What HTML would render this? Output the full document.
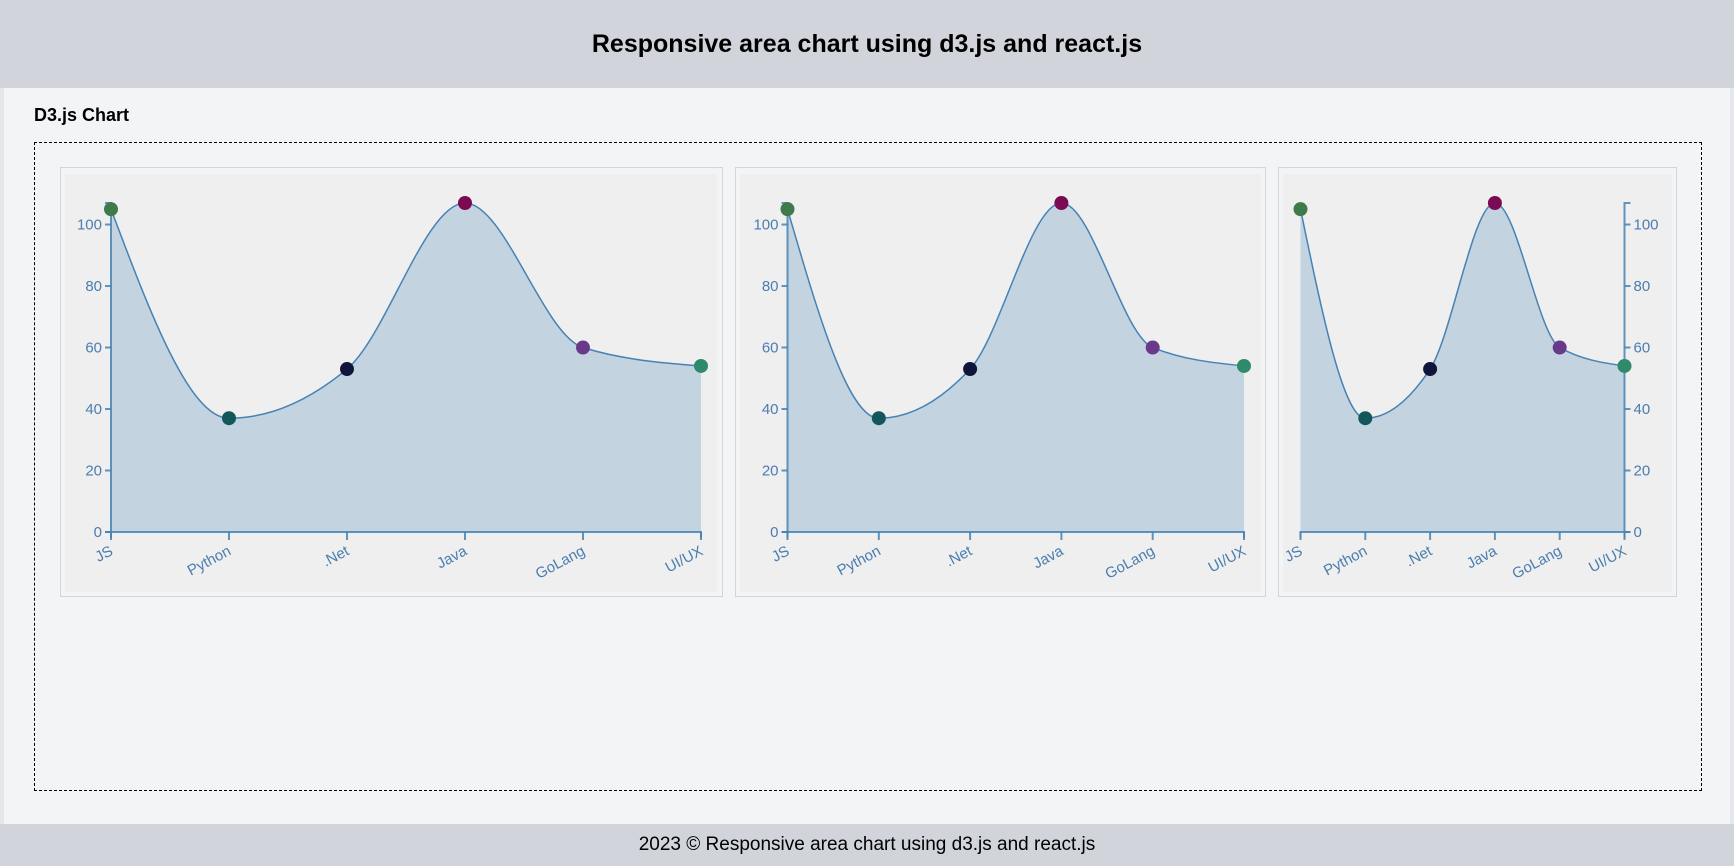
<!DOCTYPE html>
<html><head><meta charset="utf-8">
<style>
html,body{margin:0;padding:0;width:1734px;height:866px;overflow:hidden;background:#e5e7eb;font-family:"Liberation Sans",sans-serif;}
#header{position:absolute;left:0;top:0;width:1734px;height:88px;background:#d1d5db;}
#header h1{margin:0;position:absolute;left:0;width:1734px;top:30px;text-align:center;font-size:25px;font-weight:bold;color:#000;}
#main{position:absolute;left:4px;top:88px;width:1726px;height:736px;background:#f3f4f6;}
#sub{position:absolute;left:34px;top:105px;font-size:18px;font-weight:bold;}
#box{position:absolute;left:34px;top:142px;width:1666px;height:647px;border:1px dashed #000;}
.card{position:absolute;top:167px;height:430px;border:1px solid #d1d5db;background:#f3f4f6;box-sizing:border-box;}
#footer{position:absolute;left:0;top:824px;width:1734px;height:42px;background:#d1d5db;text-align:center;line-height:42px;font-size:19px;}
svg{position:absolute;left:0;top:0;}
</style></head><body>
<div id="header"><h1>Responsive area chart using d3.js and react.js</h1></div>
<div id="main"></div>
<div id="sub">D3.js Chart</div>
<div id="box"></div>
<div class="card" style="left:60px;width:663px"></div>
<div class="card" style="left:735px;width:531px"></div>
<div class="card" style="left:1278px;width:399px"></div>
<div id="footer">2023 © Responsive area chart using d3.js and react.js</div>
<svg id="chart" width="1734" height="866"></svg>
<script>
const categories = ["JS","Python",".Net","Java","GoLang","UI/UX"];
const values = [105,37,53,107,60,54];
const yTicks = [0,20,40,60,80,100];
const pointColors = ["#3f7a4a","#14575a","#10163a","#7a0a52","#6a3a8a","#2e8a6a"];

const NS="http://www.w3.org/2000/svg";
const svg=document.getElementById('chart');
function mk(tag,attrs,parent){const e=document.createElementNS(NS,tag);for(const k in attrs)e.setAttribute(k,attrs[k]);(parent||svg).appendChild(e);return e;}

const panels=[
 {px:65,pw:652,x0:111,x1:701,right:false},
 {px:740,pw:521,x0:787.5,x1:1244,right:false},
 {px:1283,pw:389,x0:1300.5,x1:1624.5,right:true}
];
const yTop=203, yBot=532;
const yMax=Math.max(...values);
function sign(x){return x<0?-1:1;}
function monotone(pts){
  const n=pts.length, t=new Array(n);
  const h=[],s=[];
  for(let i=0;i<n-1;i++){h[i]=pts[i+1][0]-pts[i][0];s[i]=(pts[i+1][1]-pts[i][1])/h[i];}
  for(let i=1;i<n-1;i++){
    const p=(s[i-1]*h[i]+s[i]*h[i-1])/(h[i-1]+h[i]);
    t[i]=(sign(s[i-1])+sign(s[i]))*Math.min(Math.abs(s[i-1]),Math.abs(s[i]),0.5*Math.abs(p))||0;
  }
  t[0]=(3*s[0]-t[1])/2; t[n-1]=(3*s[n-2]-t[n-2])/2;
  let d="M"+pts[0][0]+","+pts[0][1];
  for(let i=0;i<n-1;i++){
    const dx=h[i]/3;
    d+="C"+(pts[i][0]+dx)+","+(pts[i][1]+dx*t[i])+" "+(pts[i+1][0]-dx)+","+(pts[i+1][1]-dx*t[i+1])+" "+pts[i+1][0]+","+pts[i+1][1];
  }
  return d;
}
panels.forEach((p,pi)=>{
  const g=mk('g',{});
  
  
  const bg=mk('rect',{x:p.px,y:174,width:p.pw,height:418,fill:'#efefef'},g);
  
  
  const xs=i=>p.x0+(p.x1-p.x0)*i/(categories.length-1);
  const ys=v=>yBot-(yBot-yTop)*v/yMax;
  const pts=values.map((v,i)=>[xs(i),ys(v)]);
  const line=monotone(pts);
  const area=mk('path',{d:line+"L"+p.x1+","+yBot+"L"+p.x0+","+yBot+"Z",fill:'#c3d3e0'},g);
  
  
  const ln=mk('path',{d:line,fill:'none',stroke:'#4682b4','stroke-width':1.5},g);
  
  
  const ax=p.right?p.x1:p.x0, dir=p.right?1:-1;
  const yaxis=mk('g',{},g);
  
  
  mk('path',{d:`M${ax+6*dir},${yTop}H${ax}V${yBot}H${ax+6*dir}`,fill:'none',stroke:'#4682b4','stroke-width':2,opacity:0.85},yaxis);
  yTicks.forEach(t=>{
    const y=ys(t);
    mk('line',{x1:ax,x2:ax+6*dir,y1:y,y2:y,stroke:'#4682b4','stroke-width':2,opacity:0.85},yaxis);
    const tx=mk('text',{x:ax+9*dir,y:y+5,'text-anchor':p.right?'start':'end','font-size':15,fill:'#4a7db0'},yaxis);
    tx.textContent=t;
    
    
  });
  const xaxis=mk('g',{},g);
  
  
  mk('path',{d:`M${p.x0},${yBot+6}V${yBot}H${p.x1}V${yBot+6}`,fill:'none',stroke:'#4682b4','stroke-width':2,opacity:0.85},xaxis);
  categories.forEach((c,i)=>{
    const x=xs(i);
    mk('line',{x1:x,x2:x,y1:yBot,y2:yBot+8,stroke:'#4682b4','stroke-width':2,opacity:0.85},xaxis);
    const tx=mk('text',{x:x+3,y:yBot+22,'text-anchor':'end','font-size':15,fill:'#4a7db0',transform:`rotate(-28 ${x+3} ${yBot+22})`},xaxis);
    tx.textContent=c;
    
    
  });
  pts.forEach((pt,i)=>{
    const c=mk('circle',{cx:pt[0],cy:pt[1],r:7,fill:pointColors[i]},g);
    
    
  });
});
</script>
</body></html>
